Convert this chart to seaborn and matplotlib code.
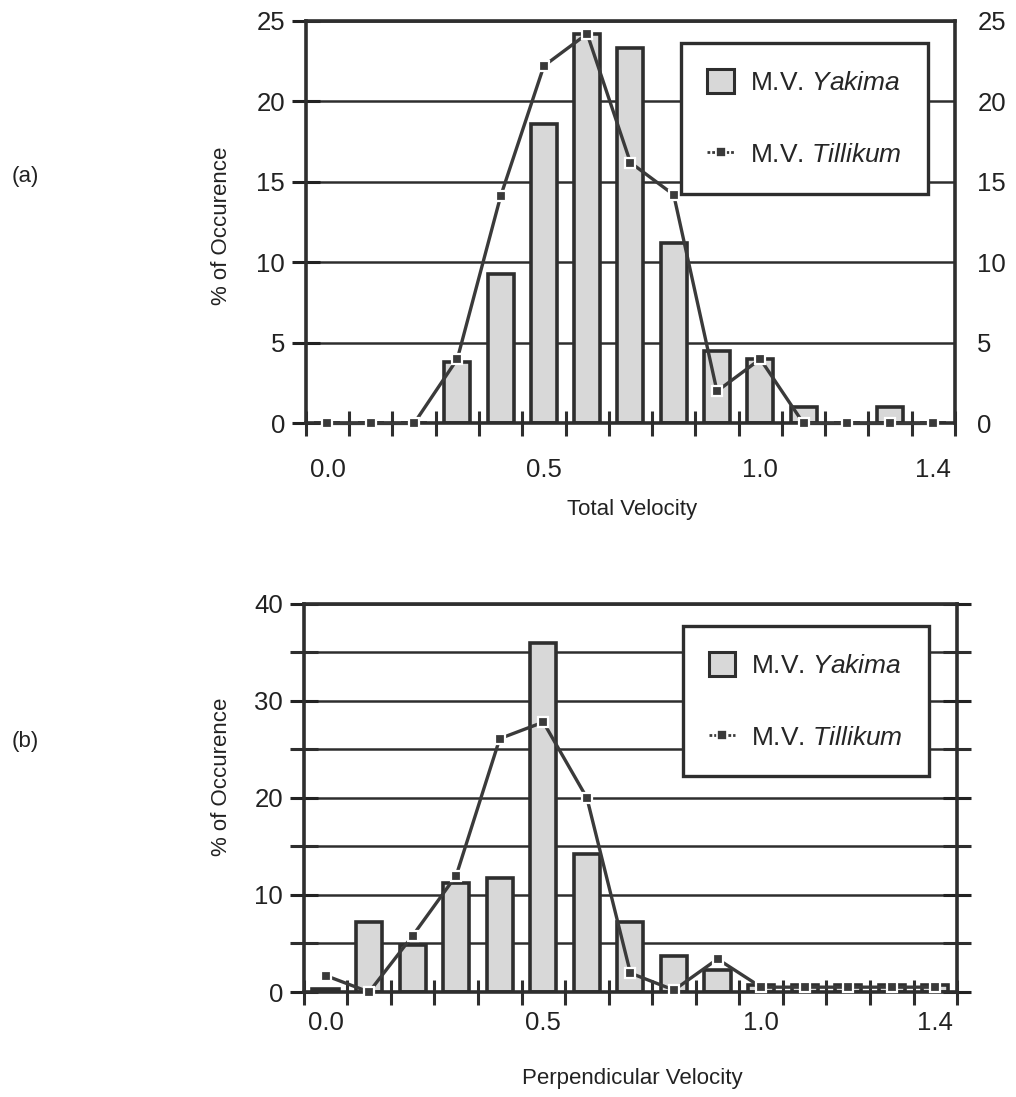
import numpy as np
import pandas as pd
import matplotlib
matplotlib.use("Agg")
import matplotlib.pyplot as plt
import seaborn as sns
from matplotlib.patches import Patch
from matplotlib.lines import Line2D

# ---------------- data ----------------
categories = ['0.0', '0.1', '0.2', '0.3', '0.4', '0.5', '0.6', '0.7',
              '0.8', '0.9', '1.0', '1.1', '1.2', '1.3', '1.4']
yakima_total = [0, 0, 0, 3.8, 9.3, 18.6, 24.2, 23.3, 11.2, 4.5, 4.0, 1.0, 0, 1.0, 0]
tillikum_total = [0, 0, 0, 4.0, 14.1, 22.2, 24.2, 16.2, 14.2, 2.0, 4.0, 0, 0, 0, 0]
yakima_perp = [0.3, 7.25, 4.85, 11.2, 11.7, 35.9, 14.2, 7.25, 3.7, 2.3, 0.7, 0.7, 0.7, 0.7, 0.7]
tillikum_perp = [1.7, 0.0, 5.8, 12.0, 26.1, 27.8, 20.0, 1.95, 0.2, 3.4, 0.5, 0.5, 0.5, 0.5, 0.5]
xtick_labels = ['0.0', '0.5', '1.0', '1.4']
yticks_top = [0, 5, 10, 15, 20, 25]
yticks_bottom = [0, 10, 20, 30, 40]

# ---------------- style ----------------
sns.set_theme(style="white")
plt.rcParams['font.family'] = ['Liberation Sans', 'DejaVu Sans']
plt.rcParams['mathtext.fontset'] = 'custom'
plt.rcParams['mathtext.it'] = 'Liberation Sans:italic'
plt.rcParams['mathtext.rm'] = 'Liberation Sans'

INK = '#2e2e2e'
TXT = '#222222'
BAR = '#d8d8d8'
LINE = '#3a3a3a'
TICK_FS = 18.5
LABEL_FS = 16

fig = plt.figure(figsize=(10.16, 10.97), dpi=100)
ax_a = fig.add_axes([0.301, 0.614, 0.639, 0.367])
ax_b = fig.add_axes([0.299, 0.0957, 0.643, 0.354])


def draw(ax, yak, till, ymax, yticks, minor_step, xpad):
    df = pd.DataFrame({'vel': categories, 'yak': yak, 'till': till})
    sns.barplot(data=df, x='vel', y='yak', order=categories, color=BAR,
                width=0.6, edgecolor=INK, linewidth=2.6, saturation=1,
                errorbar=None, ax=ax, zorder=2)
    sns.pointplot(data=df, x='vel', y='till', order=categories, color=LINE,
                  markers='s', errorbar=None, ax=ax, linewidth=2.4,
                  markersize=7.5, markeredgecolor='white', markeredgewidth=1.6)
    for ln in ax.lines:
        ln.set_clip_on(False)
        ln.set_zorder(4)
    for c in ax.collections:
        c.set_clip_on(False)
        c.set_zorder(5)

    ax.set_xlim(-0.5, 14.5)
    ax.set_ylim(0, ymax)

    # x ticks: marks at bin boundaries, labels at selected bins
    ax.set_xticks([0, 5, 10, 14])
    ax.set_xticklabels(xtick_labels)
    ax.set_xticks(np.arange(-0.5, 15, 1), minor=True)
    ax.tick_params(axis='x', which='major', length=0, pad=xpad,
                   labelsize=TICK_FS, colors=TXT)
    ax.tick_params(axis='x', which='minor', direction='inout', length=18, width=2.2,
                   color=INK, bottom=True)

    ax.set_yticks(yticks)
    ax.set_yticks(np.arange(0, ymax + 0.1, minor_step), minor=True)
    ax.tick_params(axis='y', which='both', direction='inout', length=20, width=2.2,
                   color=INK, left=True, right=True)
    ax.tick_params(axis='y', which='major', labelsize=TICK_FS, pad=5, colors=TXT,
                   labelright=False)
    ax.grid(False)
    ax.yaxis.grid(True, which='both', color=INK, linewidth=1.8, zorder=0)
    ax.set_axisbelow(True)
    for s in ax.spines.values():
        s.set_color(INK)
        s.set_linewidth(2.6)
        s.set_visible(True)
    ax.set_ylabel('% of Occurence', fontsize=LABEL_FS, color=TXT)

    handles = [Patch(facecolor=BAR, edgecolor=INK, linewidth=2.2),
               Line2D([0], [0], color=LINE, linestyle=(0, (1.0, 0.7)), linewidth=2,
                      marker='s', markersize=7, markeredgecolor='white',
                      markeredgewidth=1.2)]
    labels = [r'M.V. $\it{Yakima}$', r'M.V. $\it{Tillikum}$']
    leg = ax.legend(handles, labels, loc='upper left', fontsize=19,
                    frameon=True, fancybox=False, edgecolor=INK, framealpha=1,
                    borderpad=1.0, labelspacing=1.75, handlelength=1.0,
                    handleheight=1.0, handletextpad=0.6, borderaxespad=0)
    leg.get_frame().set_linewidth(2.4)
    leg.set_zorder(6)
    return leg


leg_a = draw(ax_a, yakima_total, tillikum_total, 25, yticks_top, 5, 25)
leg_a.set_bbox_to_anchor((0.578, 0.945), transform=ax_a.transAxes)
ax_a.set_xlabel('Total Velocity', fontsize=LABEL_FS, color=TXT)
ax_a.xaxis.set_label_coords(0.502, -0.187)
ax_a.yaxis.set_label_coords(-0.114, 0.49)

# right-hand labels for panel (a)
ax_a2 = ax_a.twinx()
ax_a2.set_ylim(0, 25)
ax_a2.set_yticks(yticks_top)
ax_a2.tick_params(axis='y', length=0, pad=16, labelsize=TICK_FS, colors=TXT)
ax_a2.grid(False)
for s in ax_a2.spines.values():
    s.set_visible(False)

leg_b = draw(ax_b, yakima_perp, tillikum_perp, 40, yticks_bottom, 5, 14)
leg_b.set_bbox_to_anchor((0.580, 0.943), transform=ax_b.transAxes)
ax_b.set_xlabel('Perpendicular Velocity', fontsize=LABEL_FS, color=TXT)
ax_b.xaxis.set_label_coords(0.503, -0.195)
ax_b.yaxis.set_label_coords(-0.110, 0.553)

fig.text(0.0246, 0.8387, '(a)', fontsize=LABEL_FS, color=TXT, ha='center', va='center')
fig.text(0.0246, 0.3240, '(b)', fontsize=LABEL_FS, color=TXT, ha='center', va='center')

fig.savefig('out.png', dpi=100, facecolor='white')
